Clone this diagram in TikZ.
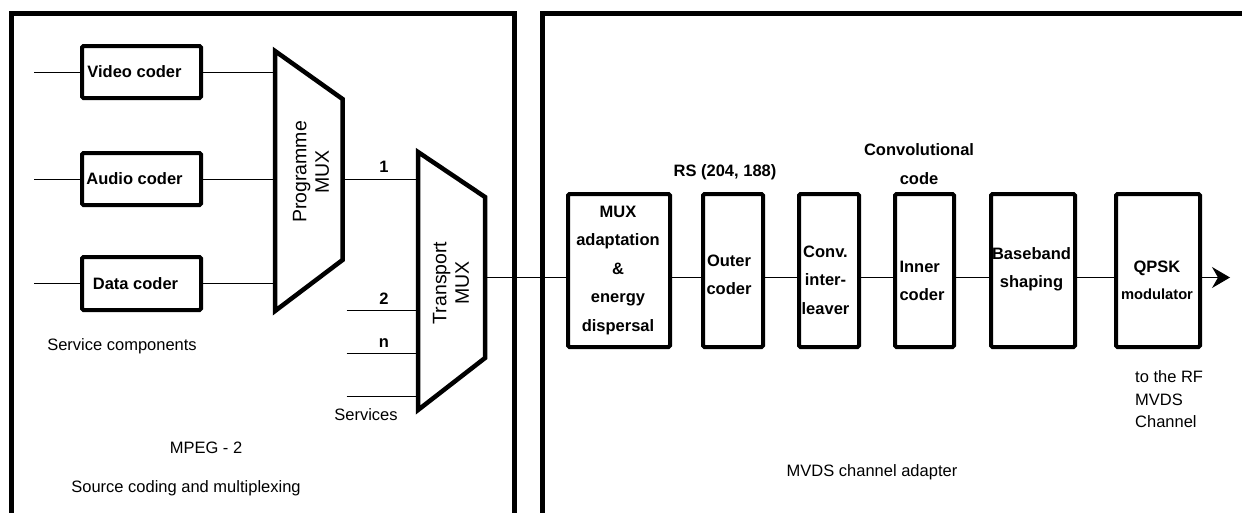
\documentclass[tikz,border=0pt]{standalone}
\usepackage{fontspec}
\setmainfont{Liberation Sans}
\usetikzlibrary{arrows.meta}
\begin{document}
\begin{tikzpicture}[x=1pt,y=-1pt,
  frame/.style={line width=5pt,line join=miter},
  cbox/.style={draw,line width=4pt,rounded corners=1.5pt,inner sep=0pt},
  trap/.style={line width=4.5pt,line join=miter},
  wire/.style={line width=1pt},
  btxt/.style={font=\fontsize{16.5}{28.5}\selectfont\bfseries,align=center,inner sep=0pt},
  rtxt/.style={font=\fontsize{16.5}{22.5}\selectfont,align=center,inner sep=0pt},
  mtxt/.style={font=\fontsize{19.5}{22.5}\selectfont,align=center,inner sep=0pt,rotate=90},
]
\useasboundingbox (0,0) rectangle (1242,512);
\clip (0,0) rectangle (1242,512);

% panels
\draw[frame] (11,520) -- (11,13.5) -- (514.5,13.5) -- (514.5,520);
\draw[frame] (542.5,520) -- (542.5,13.5) -- (1250,13.5);

% source coders
\node[cbox,minimum width=119,minimum height=52,label={[btxt,xshift=-7pt]center:Video coder}] (video) at (141.5,72) {};
\node[cbox,minimum width=119,minimum height=52,label={[btxt,xshift=-7pt]center:Audio coder}] (audio) at (141.5,179) {};
\node[cbox,minimum width=119,minimum height=53,label={[btxt,xshift=-6pt]center:Data coder}] (data) at (141.5,283.5) {};

\coordinate (vin) at (34,72);
\coordinate (ain) at (34,179);
\coordinate (din) at (34,283.5);
\draw[wire] (vin) -- (video.west);
\draw[wire] (ain) -- (audio.west);
\draw[wire] (din) -- (data.west);

% programme MUX
\coordinate (pTL) at (275,51);
\coordinate (pTR) at (342.5,99);
\coordinate (pBR) at (342.5,260);
\coordinate (pBL) at (275,311);
\draw[trap] (pTL) -- (pTR) -- (pBR) -- (pBL) -- cycle;
\node[mtxt] (pmux) at (311,172) {Programme\\MUX};
\draw[wire] (video.east) -- (video.east -| pTL);
\draw[wire] (audio.east) -- (audio.east -| pTL);
\draw[wire] (data.east) -- (data.east -| pTL);

% transport MUX
\coordinate (tTL) at (418,152);
\coordinate (tTR) at (485,197);
\coordinate (tBR) at (485,358);
\coordinate (tBL) at (418,410);
\draw[trap] (tTL) -- (tTR) -- (tBR) -- (tBL) -- cycle;
\node[mtxt] (tmux) at (451,283) {Transport\\MUX};

\coordinate (s1) at (342.5,179);
\draw[wire] (s1) -- (s1 -| tTL);
\coordinate (s2) at (346.5,310);
\coordinate (sn) at (346.5,353);
\coordinate (s3) at (346.5,396);
\draw[wire] (s2) -- (s2 -| tTL);
\draw[wire] (sn) -- (sn -| tTL);
\draw[wire] (s3) -- (s3 -| tTL);
\node[btxt] (l1) at (384,167) {1};
\node[btxt] (l2) at (384,298.5) {2};
\node[btxt] (ln) at (384,343) {n};

\node[rtxt] (serv) at (366,415) {Services};
\node[rtxt] (servc) at (122,346) {Service components};
\node[rtxt] (mpeg) at (206,448) {MPEG - 2};
\node[rtxt] (src) at (186,488) {Source coding and multiplexing};

% channel adapter
\coordinate (chain) at (0,277.5);
\node[cbox,minimum width=102,minimum height=153,label={[btxt,xshift=-1pt]center:MUX\\adaptation\\\&\\energy\\dispersal}] (madapt) at (619,270.5) {};
\node[cbox,minimum width=60,minimum height=153,label={[btxt,xshift=-4pt,yshift=-4.5pt]center:Outer\\coder}] (outer) at (733,270.5) {};
\node[cbox,minimum width=60,minimum height=153,label={[btxt,xshift=-3.5pt,yshift=-9.5pt]center:Conv.\\inter-\\leaver}] (conv) at (829,270.5) {};
\node[cbox,minimum width=59,minimum height=153,label={[btxt,align=left,xshift=-2.5pt,yshift=-10.5pt]center:Inner\\coder}] (inner) at (924.5,270.5) {};
\node[cbox,minimum width=84,minimum height=153,label={[btxt,xshift=-1.5pt,yshift=1pt]center:Baseband\\shaping}] (base) at (1033,270.5) {};
\node[cbox,minimum width=84,minimum height=153,label={[btxt,font=\fontsize{16.5}{27}\selectfont\bfseries,xshift=-1pt,yshift=-10pt]center:QPSK\\{\fontsize{14.7}{27}\selectfont modulator}}] (qpsk) at (1158,270.5) {};

\draw[wire] (tTR |- chain) -- (madapt.west |- chain);
\draw[wire] (madapt.east |- chain) -- (outer.west |- chain);
\draw[wire] (outer.east |- chain) -- (conv.west |- chain);
\draw[wire] (conv.east |- chain) -- (inner.west |- chain);
\draw[wire] (inner.east |- chain) -- (base.west |- chain);
\draw[wire] (base.east |- chain) -- (qpsk.west |- chain);
\coordinate (rfout) at (1230,277.5);
\draw[wire,-{Stealth[length=18pt,width=21pt,inset=6pt]}] (qpsk.east |- chain) -- (rfout);

\node[btxt] (rs) at (725,172) {RS (204, 188)};
\node[btxt] (cc) at (919,164) {Convolutional\\code};
\node[rtxt,align=left,anchor=west] (rf) at (1135,399.5) {to the RF\\MVDS\\Channel};
\node[rtxt] (mvds) at (872,472) {MVDS channel adapter};
\end{tikzpicture}
\end{document}
